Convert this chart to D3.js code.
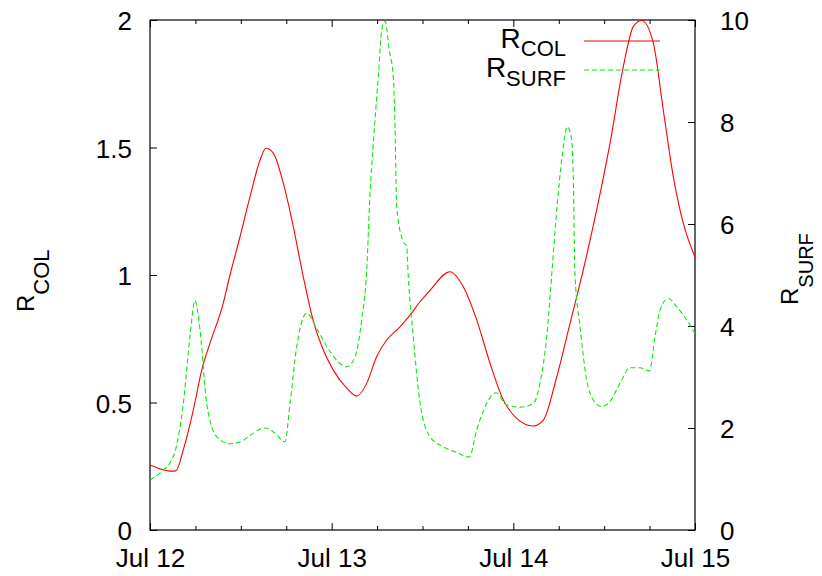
<!DOCTYPE html>
<html>
<head>
<meta charset="utf-8">
<script src="https://cdn.jsdelivr.net/npm/d3@7"></script>
<style>
  html, body { margin: 0; padding: 0; background: #fff; }
  svg { display: block; }
  text { font-family: "Liberation Sans", Arial, Helvetica, sans-serif; fill: #000; }
</style>
</head>
<body>
<svg id="chart" width="822" height="576"></svg>
<script>
// ---- data (hours after Jul 12 00:00) ----
const colHours = [0,1.32,2.64,3.43,4.4,5.72,6.83,7.93,9.68,10.57,11.89,13.21,14.53,15.32,16.29,17.61,18.93,20.25,21.57,22.9,24.22,25.99,27.31,28.63,29.95,31.27,33.03,34.35,35.67,36.99,39.63,41.39,43.16,44.92,46.68,48.44,50.64,51.96,53.73,55.49,57.24,59.01,60.77,62.53,63.85,64.96,66.49,67.81,69.13,70.45,72];
const colValues = [0.255,0.24,0.231,0.232,0.314,0.47,0.627,0.733,0.89,1.0,1.15,1.307,1.45,1.497,1.478,1.36,1.19,0.993,0.82,0.706,0.627,0.556,0.525,0.575,0.68,0.745,0.797,0.843,0.895,0.94,1.013,0.954,0.824,0.654,0.51,0.438,0.408,0.431,0.6,0.81,1.02,1.255,1.516,1.817,1.974,1.998,1.91,1.647,1.386,1.203,1.07];
const surfHours = [0,1.32,3.08,4.4,5.28,5.94,6.61,7.49,8.81,10.57,12.33,13.65,15.19,16.51,17.83,18.5,19.38,20.7,22.02,23.78,25.99,27.09,27.97,28.63,29.07,29.5,30.16,30.61,31.05,31.61,32.14,32.37,32.59,33.46,33.91,34.12,34.78,35.67,36.99,38.75,40.52,42.18,43.16,44.48,45.71,47.12,48.88,50.64,51.52,52.41,53.07,53.73,54.39,55.13,55.71,55.92,56.15,56.81,57.69,58.57,59.68,60.77,62.1,63.42,64.74,65.97,66.72,67.38,68.47,69.58,70.9,72];
const surfValues = [0.98,1.12,1.44,2.48,3.79,4.5,3.92,2.48,1.83,1.69,1.76,1.9,2.0,1.9,1.73,2.48,3.59,4.25,3.95,3.5,3.2,3.4,4.12,5.1,6.6,7.58,8.89,9.8,9.98,9.41,8.89,7.9,6.34,5.65,5.56,4.97,3.79,2.5,1.83,1.63,1.52,1.43,1.96,2.48,2.69,2.45,2.41,2.48,2.88,3.79,5.0,6.27,7.25,7.91,7.65,6.93,5.0,3.99,2.94,2.55,2.42,2.52,2.88,3.18,3.18,3.12,3.79,4.31,4.54,4.38,4.12,3.85];
const leftTicks = [0, 0.5, 1, 1.5, 2];
const rightTicks = [0, 2, 4, 6, 8, 10];
const dayTickLabels = ["Jul 12", "Jul 13", "Jul 14", "Jul 15"];

// ---- layout ----
const L = 150, R = 695, T = 20, B = 530;
const FONT = 26;
const base = new Date(2000, 6, 12);
const toDate = h => new Date(base.getTime() + h * 3600e3);

const svg = d3.select("#chart");
const x = d3.scaleTime().domain([base, toDate(72)]).range([L, R]);
const yL = d3.scaleLinear().domain([0, 2]).range([B, T]);
const yR = d3.scaleLinear().domain([0, 10]).range([B, T]);

const dayTicks = [0, 24, 48, 72].map(toDate);
const minorTicks = d3.range(0, 73, 6).filter(h => h % 24 !== 0).map(toDate);
const fmtDay = d => dayTickLabels[Math.round((d - base) / 864e5)];

function styleAxis(g) {
  g.select(".domain").remove();
  g.selectAll("line").attr("stroke", "#000").attr("stroke-width", 1);
  g.selectAll("text").attr("font-size", FONT).attr("font-family", '"Liberation Sans", Arial, sans-serif').attr("fill", "#000");
}

// bottom major
svg.append("g").attr("transform", `translate(0,${B})`)
  .call(d3.axisBottom(x).tickValues(dayTicks).tickFormat(fmtDay).tickSize(-7).tickSizeOuter(0).tickPadding(19))
  .call(styleAxis);
// bottom minor
svg.append("g").attr("transform", `translate(0,${B})`)
  .call(d3.axisBottom(x).tickValues(minorTicks).tickFormat("").tickSize(-4).tickSizeOuter(0))
  .call(styleAxis);
// top major/minor (mirror)
svg.append("g").attr("transform", `translate(0,${T})`)
  .call(d3.axisTop(x).tickValues(dayTicks).tickFormat("").tickSize(-7).tickSizeOuter(0))
  .call(styleAxis);
svg.append("g").attr("transform", `translate(0,${T})`)
  .call(d3.axisTop(x).tickValues(minorTicks).tickFormat("").tickSize(-4).tickSizeOuter(0))
  .call(styleAxis);
// left
const gl = svg.append("g").attr("transform", `translate(${L},0)`)
  .call(d3.axisLeft(yL).tickValues(leftTicks).tickFormat(d => String(d)).tickSize(-7).tickSizeOuter(0).tickPadding(18))
  .call(styleAxis);
gl.selectAll("text").attr("dy", "0.38em");
// right
const gr = svg.append("g").attr("transform", `translate(${R},0)`)
  .call(d3.axisRight(yR).tickValues(rightTicks).tickFormat(d => String(d)).tickSize(-7).tickSizeOuter(0).tickPadding(25))
  .call(styleAxis);
gr.selectAll("text").attr("dy", "0.36em");

// frame
svg.append("rect").attr("x", L).attr("y", T).attr("width", R - L).attr("height", B - T)
  .attr("fill", "none").attr("stroke", "#000").attr("stroke-width", 1.2);

// lines
svg.append("clipPath").attr("id", "clip").append("rect")
  .attr("x", L).attr("y", T - 1).attr("width", R - L).attr("height", B - T + 1);

const colData = colHours.map((h, i) => ({ t: toDate(h), v: colValues[i] }));
const surfData = surfHours.map((h, i) => ({ t: toDate(h), v: surfValues[i] }));

svg.append("path").datum(colData)
  .attr("clip-path", "url(#clip)")
  .attr("fill", "none").attr("stroke", "#ff0000").attr("stroke-width", 1.1)
  .attr("d", d3.line().x(d => x(d.t)).y(d => yL(d.v)).curve(d3.curveMonotoneX));

svg.append("path").datum(surfData)
  .attr("clip-path", "url(#clip)")
  .attr("fill", "none").attr("stroke", "#00ee00").attr("stroke-width", 1.1)
  .attr("stroke-dasharray", "5,3")
  .attr("d", d3.line().x(d => x(d.t)).y(d => yR(d.v)).curve(d3.curveMonotoneX));

// legend
function subText(g, xPos, yPos, main, sub, mainSize, subSize, shift, anchor) {
  const t = g.append("text").attr("x", xPos).attr("y", yPos).attr("text-anchor", anchor);
  t.append("tspan").attr("font-size", mainSize).text(main);
  t.append("tspan").attr("font-size", subSize).attr("dy", shift).text(sub);
  return t;
}
const leg = svg.append("g");
subText(leg, 566, 48, "R", "COL", 28, 22, 8, "end");
subText(leg, 566, 77, "R", "SURF", 28, 22, 9, "end");
leg.append("line").attr("x1", 584).attr("x2", 660).attr("y1", 41).attr("y2", 41)
  .attr("stroke", "#ff0000").attr("stroke-width", 1.1);
leg.append("line").attr("x1", 584).attr("x2", 660).attr("y1", 70).attr("y2", 70)
  .attr("stroke", "#00ee00").attr("stroke-width", 1.1).attr("stroke-dasharray", "5,3");

// axis titles (rotated)
const yl = svg.append("g").attr("transform", "translate(34,312) rotate(-90)");
subText(yl, 0, 0, "R", "COL", 24, 22, 15, "start");
const yr = svg.append("g").attr("transform", "translate(798,305) rotate(-90)");
subText(yr, 0, 0, "R", "SURF", 24, 20, 15, "start");
</script>
</body>
</html>
